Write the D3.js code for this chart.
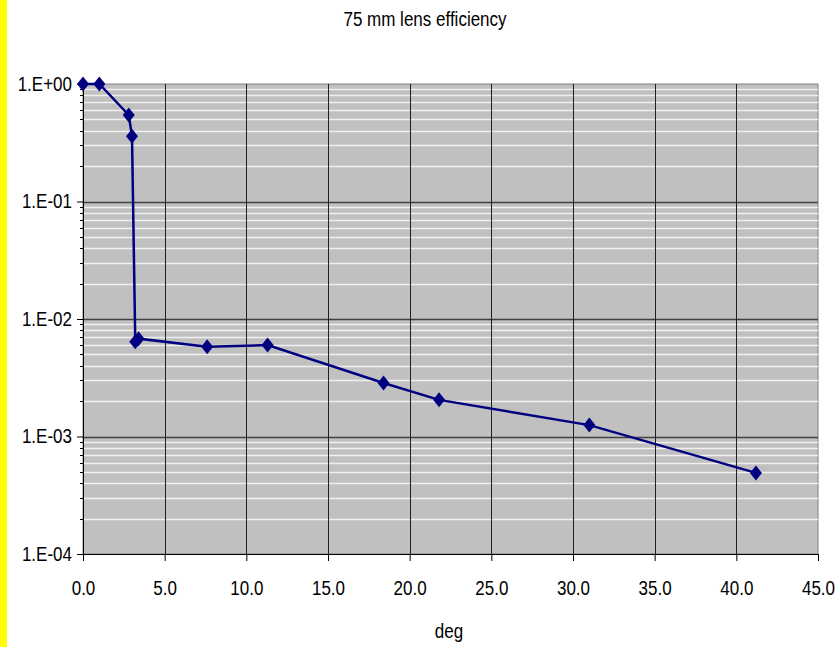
<!DOCTYPE html>
<html><head><meta charset="utf-8">
<script src="https://cdn.jsdelivr.net/npm/d3@7"></script>
<style>body{margin:0;background:#fff}svg{display:block}text{font-family:"Liberation Sans",Arial,sans-serif;fill:#000}</style>
</head><body>
<script>
const degValues = [0.0, 1.0, 2.8, 3.0, 3.2, 3.4, 7.6, 11.3, 18.4, 21.8, 31.0, 41.2];
const effValues = [1.0, 1.0, 0.545, 0.36, 0.0064, 0.0068, 0.0058, 0.0060, 0.00285, 0.00205, 0.00125, 0.00049];
const xTicks = [0, 5, 10, 15, 20, 25, 30, 35, 40, 45];
const yTicks = [1, 0.1, 0.01, 0.001, 0.0001];
const yTickLabels = ["1.E+00", "1.E-01", "1.E-02", "1.E-03", "1.E-04"];
const title = "75 mm lens efficiency";
const xTitle = "deg";

const W = 839, H = 647;
const FS = 20, SQ = 0.85;
const m = {l: 83, r: 21, t: 84, b: 93};
const svg = d3.select("body").append("svg").attr("width", W).attr("height", H);
svg.append("rect").attr("x", 0).attr("y", 0).attr("width", 7).attr("height", H).attr("fill", "#ffff00");

const x = d3.scaleLinear().domain([0, 45]).range([m.l, W - m.r]);
const y = d3.scaleLog().domain([1e-4, 1]).range([H - m.b, m.t]);

svg.append("rect").attr("x", m.l).attr("y", m.t).attr("width", W - m.r - m.l).attr("height", H - m.b - m.t)
  .attr("fill", "#c0c0c0").attr("stroke", "#808080").attr("stroke-width", 1);

const minors = [];
for (let e = -4; e < 0; e++) for (let k = 2; k <= 9; k++) minors.push(k * Math.pow(10, e));

const g = svg.append("g");
g.selectAll("line.minor").data(minors).join("line")
  .attr("x1", m.l).attr("x2", W - m.r)
  .attr("y1", d => Math.round(y(d)) + 0.5).attr("y2", d => Math.round(y(d)) + 0.5)
  .attr("stroke", "#f0f0f0").attr("stroke-width", 1.3);
g.selectAll("line.majy").data(yTicks.slice(1, 4)).join("line")
  .attr("x1", m.l).attr("x2", W - m.r)
  .attr("y1", d => Math.round(y(d)) + 0.5).attr("y2", d => Math.round(y(d)) + 0.5)
  .attr("stroke", "#404040").attr("stroke-width", 1.5);
g.selectAll("line.majx").data(xTicks.slice(1, -1)).join("line")
  .attr("y1", m.t).attr("y2", H - m.b)
  .attr("x1", d => Math.round(x(d)) + 0.5).attr("x2", d => Math.round(x(d)) + 0.5)
  .attr("stroke", "#202020").attr("stroke-width", 1);

const xAxis = d3.axisBottom(x).tickValues(xTicks).tickFormat(d3.format(".1f")).tickSize(7).tickPadding(20);
const xg = svg.append("g").attr("transform", `translate(0,${H - m.b})`).call(xAxis);
xg.select(".domain").attr("stroke", "#000");
xg.selectAll("text").attr("font-size", FS).attr("font-family", "Liberation Sans, Arial, sans-serif");

const yAxis = d3.axisLeft(y).tickValues(yTicks).tickFormat((d, i) => yTickLabels[i]).tickSize(6).tickPadding(5);
const yg = svg.append("g").attr("transform", `translate(${m.l},0)`).call(yAxis);
yg.select(".domain").attr("stroke", "#000");
yg.selectAll("text").attr("font-size", FS).attr("font-family", "Liberation Sans, Arial, sans-serif");
yg.selectAll("line.mt").data(minors).join("line").attr("class", "mt")
  .attr("x1", -3).attr("x2", 0).attr("y1", d => Math.round(y(d)) + 0.5).attr("y2", d => Math.round(y(d)) + 0.5)
  .attr("stroke", "#000");

const pts = degValues.map((d, i) => [d, effValues[i]]);
svg.append("path").datum(pts)
  .attr("d", d3.line().x(d => x(d[0])).y(d => y(d[1])))
  .attr("fill", "none").attr("stroke", "#000080").attr("stroke-width", 2.5);
svg.selectAll("path.mk").data(pts).join("path").attr("class", "mk")
  .attr("transform", d => `translate(${x(d[0])},${y(d[1])})`)
  .attr("d", "M0,-7.5L6,0L0,7.5L-6,0Z").attr("fill", "#000080");

svg.append("text").attr("x", 425).attr("y", 26).attr("text-anchor", "middle").attr("font-size", FS).text(title);
svg.append("text").attr("x", 449).attr("y", 638).attr("text-anchor", "middle").attr("font-size", FS).text(xTitle);

svg.selectAll("text").each(function() {
  const L = this.getComputedTextLength();
  d3.select(this).attr("textLength", L * SQ).attr("lengthAdjust", "spacingAndGlyphs");
});
</script>
</body></html>
